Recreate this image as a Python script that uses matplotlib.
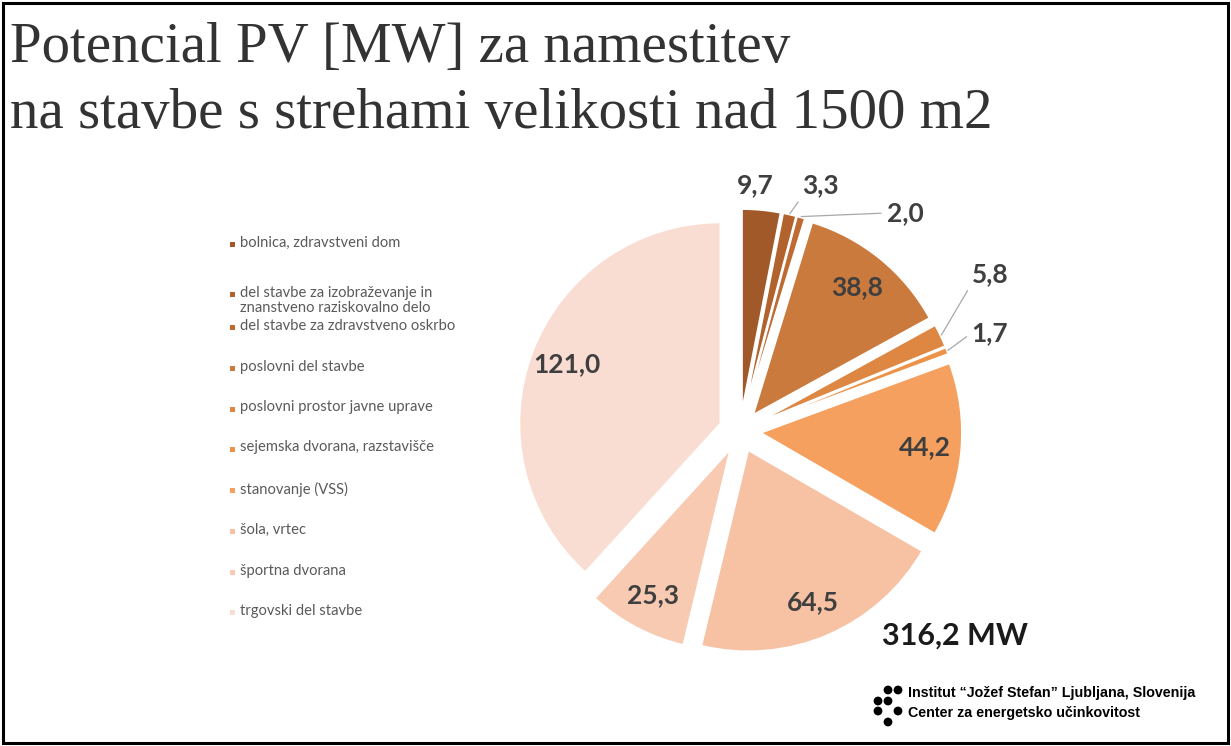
import matplotlib
matplotlib.use("Agg")
import matplotlib.pyplot as plt
import numpy as np
from matplotlib.patches import Rectangle

# ---------------- data ----------------
categories = [
    "bolnica, zdravstveni dom",
    "del stavbe za izobraževanje in\nznanstveno raziskovalno delo",
    "del stavbe za zdravstveno oskrbo",
    "poslovni del stavbe",
    "poslovni prostor javne uprave",
    "sejemska dvorana, razstavišče",
    "stanovanje (VSS)",
    "šola, vrtec",
    "športna dvorana",
    "trgovski del stavbe",
]
values = [9.7, 3.3, 2.0, 38.8, 5.8, 1.7, 44.2, 64.5, 25.3, 121.0]
total_mw = 316.2
colors = ["#A2592A", "#B1622D", "#BD6B33", "#CB7A3D", "#DE8743",
          "#EC9249", "#F6A05F", "#F7C2A4", "#F7CAB1", "#FADDD2"]
title_lines = ["Potencial PV [MW] za namestitev",
               "na stavbe s strehami velikosti nad 1500 m2"]
logo_lines = ["Institut \u201cJožef Stefan\u201d Ljubljana, Slovenija",
              "Center za energetsko učinkovitost"]

def fmt(v):
    return f"{v:.1f}".replace(".", ",")

# ---------------- figure ----------------
W, H = 1231, 746
fig = plt.figure(figsize=(W / 100, H / 100), dpi=100)
fig.patch.set_facecolor("white")
ax = fig.add_axes([0, 0, 1, 1])

cx, cy, R, EXP = 740, H - 431, 201, 21
wedges, _ = ax.pie(values, colors=colors, startangle=90, counterclock=False,
                   radius=R, center=(cx, cy), explode=[EXP] * len(values),
                   wedgeprops=dict(edgecolor="white", linewidth=1.2))
ax.set_xlim(0, W)
ax.set_ylim(0, H)
ax.set_aspect("auto")
ax.axis("off")

label_color = "#3F3F3F"
lab_font = dict(family="Lato", weight="bold", size=19, color=label_color)

inside = {3, 6, 7, 8, 9}
# outside label text positions (pixels, y up) and leader-line attach side
outside_pos = {0: (755, H - 185), 1: (820, H - 185), 2: (905, H - 213),
               4: (990, H - 274), 5: (990, H - 333)}
leader_rel = {1: (0.05, 0.1), 2: (0.0, 0.5), 4: (0.0, 0.1), 5: (0.0, 0.5)}

for i, w in enumerate(wedges):
    tm = np.deg2rad(0.5 * (w.theta1 + w.theta2))
    wx, wy = w.center
    txt = fmt(values[i])
    if i in inside:
        d = 0.82 * R
        ax.text(wx + d * np.cos(tm), wy + d * np.sin(tm), txt,
                ha="center", va="center", **lab_font)
    else:
        px, py = outside_pos[i]
        if i in leader_rel:
            ex, ey = wx + (R + 1) * np.cos(tm), wy + (R + 1) * np.sin(tm)
            ax.annotate(txt, xy=(ex, ey), xytext=(px, py), ha="center",
                        va="center", **lab_font,
                        arrowprops=dict(arrowstyle="-", color="#A8A8A8", lw=0.9,
                                        shrinkA=2, shrinkB=0,
                                        relpos=leader_rel[i]))
        else:
            ax.text(px, py, txt, ha="center", va="center", **lab_font)

ax.text(955, H - 636, f"{fmt(total_mw)} MW", ha="center", va="center",
        family="Lato", weight="bold", size=22, color="#1A1A1A")

# ---------------- legend ----------------
leg_y = [244, 294, 327, 368, 409, 449, 490, 531, 572, 612]
for name, col, y in zip(categories, colors, leg_y):
    ax.add_patch(Rectangle((230, H - y - 2.5), 5, 5, facecolor=col,
                           edgecolor="none"))
    ax.text(240, H - y + 8.5, name, ha="left", va="top", family="Lato",
            size=10.6, color="#5A5A5A", linespacing=1.15)

# ---------------- title ----------------
fig.text(10 / W, 1 - 62 / H, title_lines[0], ha="left", va="baseline",
         family="Liberation Serif", size=41, color="#333333")
fig.text(10 / W, 1 - 128 / H, title_lines[1], ha="left", va="baseline",
         family="Liberation Serif", size=41, color="#333333")

# ---------------- logo ----------------
dots_x = [888, 898, 878, 888, 878, 898, 888]
dots_y = [690, 690, 701, 701, 711, 711, 722]
ax.scatter(dots_x, [H - v for v in dots_y], s=40, color="black",
           edgecolors="none", zorder=5)
for k, line in enumerate(logo_lines):
    ax.text(908, H - 693 - 20 * k, line, ha="left", va="center",
            family="Liberation Sans", weight="bold", size=10.3, color="black")

# frame
fig.patches.append(Rectangle((3 / W, 3 / H), 1 - 6 / W, 1 - 6 / H,
                             transform=fig.transFigure, fill=False,
                             edgecolor="black", linewidth=2.2))

fig.savefig("out.png", dpi=100, facecolor="white")
